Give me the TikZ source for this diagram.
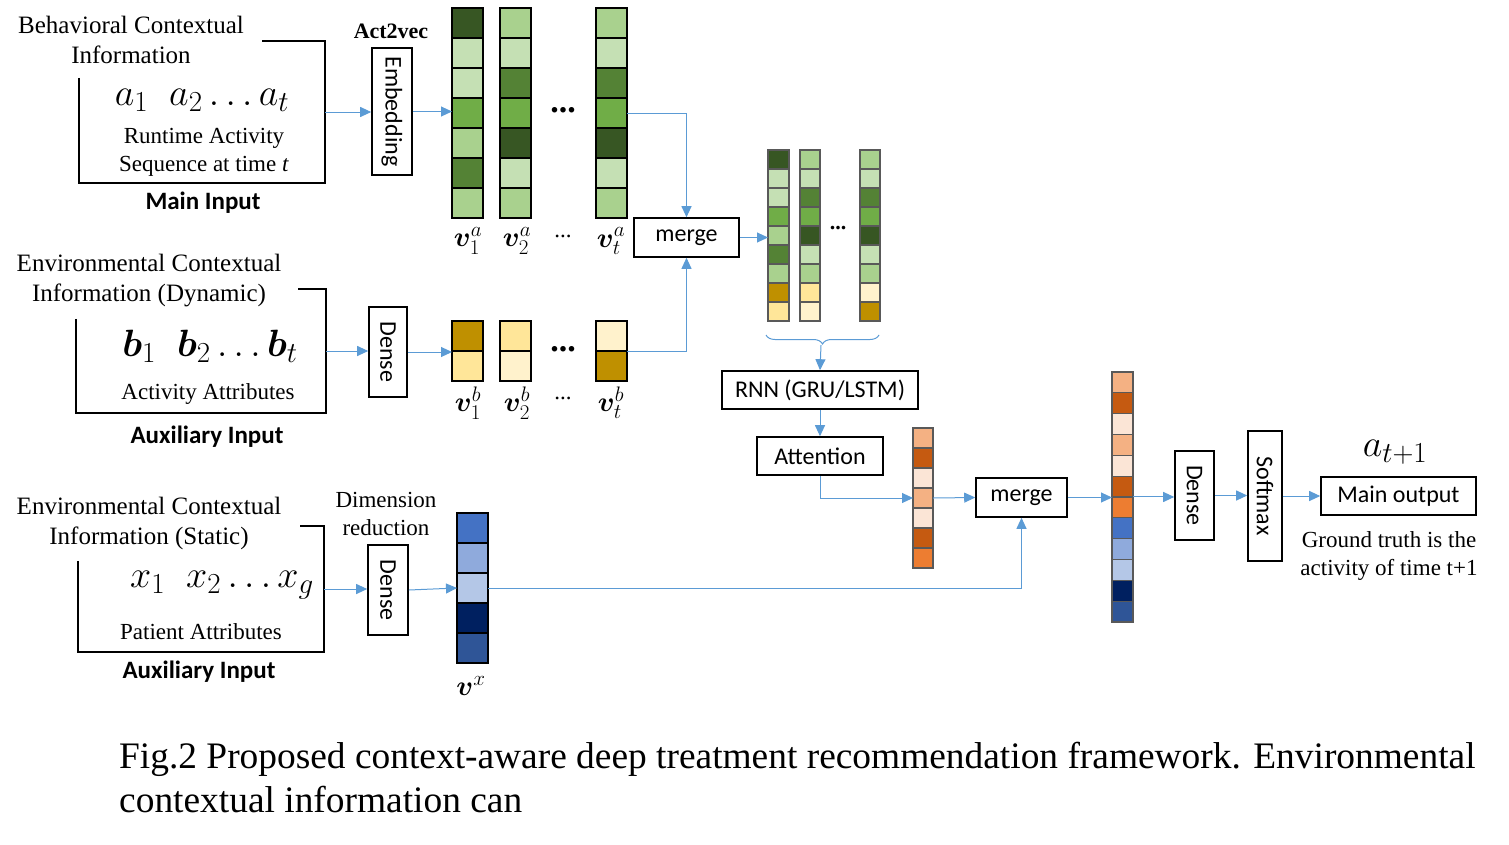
\RequirePackage{fix-cm}
\documentclass[tikz,border=0pt]{standalone}
\usepackage{fontspec}
\setmainfont{Liberation Serif}
\newfontfamily\calib{Carlito}
\usepackage{amsmath, bm}
\usepackage{graphicx}
\usepackage{tikz}
\usetikzlibrary{arrows.meta, positioning, fit, calc, decorations.pathreplacing}
\DeclareMathSizes{38}{38}{29}{22}
\DeclareMathSizes{28}{28}{21}{16}

\definecolor{gdark}{RGB}{55,86,35}
\definecolor{gmid}{RGB}{84,130,53}
\definecolor{gbright}{RGB}{112,173,71}
\definecolor{glight}{RGB}{169,209,142}
\definecolor{gpale}{RGB}{197,224,180}
\definecolor{ygold}{RGB}{191,144,0}
\definecolor{ylight}{RGB}{255,230,153}
\definecolor{ypale}{RGB}{255,242,204}
\definecolor{olight}{RGB}{244,177,131}
\definecolor{odark}{RGB}{197,90,17}
\definecolor{opale}{RGB}{251,229,214}
\definecolor{omid}{RGB}{237,125,49}
\definecolor{bmid}{RGB}{68,114,196}
\definecolor{blight}{RGB}{143,170,220}
\definecolor{bpale}{RGB}{180,199,231}
\definecolor{bnavy}{RGB}{0,32,96}
\definecolor{bdeep}{RGB}{47,85,151}
\definecolor{linkblue}{RGB}{91,155,213}

\tikzset{
  layer/.style={
    draw, line width=1.6pt, inner sep=0pt,
    font=\calib\fontsize{24}{28}\selectfont
  },
  bracket/.style={line width=1.6pt},
  cellline/.style={draw=black, line width=1.5pt},
  cellgray/.style={draw=black!65, line width=1.2pt},
  titletext/.style={font=\fontsize{25}{30}\selectfont, align=center, inner sep=0pt},
  smalltext/.style={font=\fontsize{23}{28}\selectfont, align=center, inner sep=0pt},
  inputname/.style={font=\calib\bfseries\fontsize{25}{28}\selectfont, inner sep=0pt},
  seqmath/.style={font=\fontsize{38}{42}\selectfont, inner sep=0pt},
  vlabel/.style={font=\fontsize{28}{30}\selectfont, inner sep=0pt},
  dots/.style={font=\bfseries\fontsize{34}{36}\selectfont, inner sep=0pt},
  link/.style={draw=linkblue, line width=1pt, -{Triangle[length=11pt,width=10pt]}}
}

% column of coloured cells: [style] name, left x, top y, width, cell height, count, colours
\newcommand{\cellcol}[8][cellline]{%
  \foreach \col [count=\k from 0] in {#8} {
    \filldraw[#1, fill=\col] (#3,{#4+\k*#6}) rectangle ++(#5,#6);
  }
  \node[inner sep=0pt, outer sep=0pt, minimum width=#5, minimum height={#6*#7},
        anchor=north west] (#2) at (#3,#4) {};
}

\begin{document}
\begin{tikzpicture}[x=1pt, y=-1pt]
  \useasboundingbox (0,0) rectangle (1509,844);

  % Main input (behavioral)
  \node[titletext] (tbeh) at (131,40) {Behavioral Contextual\\Information};
  \node[inner sep=0pt, minimum width=246, minimum height=142] (mainbox) at (202,112) {};
  \draw[bracket] ($(mainbox.north west)+(0,37)$) |- (mainbox.south east)
    |- ($(mainbox.north east)+(-63,0)$);
  \node[seqmath] (aseq) at (202,100) {$a_1\;\; a_2 \ldots a_t$};
  \node[smalltext] (adesc) at (204,152) {Runtime Activity\\Sequence at time \textit{t}};
  \node[inputname] (mainname) at (203,203) {Main Input};

  \node[layer, minimum width=40, minimum height=127] (emb) at (392,111.5) {\rotatebox{-90}{Embedding}};
  \node[font=\bfseries\fontsize{22}{26}\selectfont, inner sep=0pt] (act2vec) at (391,31) {Act2vec};
  \draw[link] (mainbox.east) -- (mainbox.east -| emb.west);

  % activity vectors
  \cellcol{va1}{452}{8}{31}{30}{7}{gdark,gpale,gpale,gbright,glight,gmid,glight}
  \cellcol{va2}{500}{8}{31}{30}{7}{glight,gpale,gmid,gbright,gdark,gpale,glight}
  \cellcol{vat}{596}{8}{31}{30}{7}{glight,gpale,gmid,gbright,gdark,gpale,glight}
  \node[dots] (adots) at (563,110) {...};
  \node[vlabel] (la1) at (468,241) {$\bm{v}_1^a$};
  \node[vlabel] (la2) at (517,241) {$\bm{v}_2^a$};
  \node[vlabel] (lat) at (611,241) {$\bm{v}_t^a$};
  \node[smalltext] (ladots) at (563,236) {...};
  \draw[link] (emb.east) -- (emb.east -| va1.west);

  \node[layer, minimum width=105, minimum height=39] (merge1) at (686.5,237.5) {merge};
  \draw[link] (vat.east) -| (merge1.north);

  % Auxiliary input (dynamic)
  \node[titletext] (tdyn) at (149,281) {Environmental Contextual\\Information (Dynamic)};
  \node[inner sep=0pt, minimum width=250, minimum height=124] (dynbox) at (201,351) {};
  \draw[bracket] ($(dynbox.north west)+(0,30)$) |- (dynbox.south east)
    |- ($(dynbox.north east)+(-28,0)$);
  \node[seqmath] (bseq) at (210,346) {$\bm{b}_1\;\; \bm{b}_2 \ldots \bm{b}_t$};
  \node[smalltext] (bdesc) at (208,394) {Activity Attributes};
  \node[inputname] (dynname) at (207,437) {Auxiliary Input};

  \node[layer, minimum width=38, minimum height=90] (dense1) at (388,352) {\rotatebox{-90}{Dense}};
  \draw[link] (dynbox.east) -- (dynbox.east -| dense1.west);

  \cellcol{vb1}{452}{321}{31}{30}{2}{ygold,ylight}
  \cellcol{vb2}{500}{321}{31}{30}{2}{ylight,ypale}
  \cellcol{vbt}{596}{321}{31}{30}{2}{ypale,ygold}
  \node[dots] (bdots) at (563,349) {...};
  \node[vlabel] (lb1) at (468,403) {$\bm{v}_1^b$};
  \node[vlabel] (lb2) at (517,403) {$\bm{v}_2^b$};
  \node[vlabel] (lbt) at (611,403) {$\bm{v}_t^b$};
  \node[smalltext] (lbdots) at (563,398) {...};
  \draw[link] (dense1.east) -- (dense1.east -| vb1.west);
  \draw[link] (vbt.east) -| (merge1.south);

  % concatenated sequence
  \cellcol[cellgray]{cc1}{768}{150}{21}{19}{9}{gdark,gpale,gpale,gbright,glight,gmid,glight,ygold,ylight}
  \cellcol[cellgray]{cc2}{800}{150}{20}{19}{9}{glight,gpale,gmid,gbright,gdark,gpale,glight,ylight,ypale}
  \cellcol[cellgray]{cc3}{860}{150}{20}{19}{9}{glight,gpale,gmid,gbright,gdark,gpale,glight,ypale,ygold}
  \node[font=\bfseries\fontsize{22}{24}\selectfont, inner sep=0pt] (ccdots) at (838,228) {...};
  \draw[link] (merge1.east) -- (merge1.east -| cc1.west);

  \coordinate (brl) at (766,335);
  \coordinate (brr) at (879,335);
  \coordinate (brtip) at (821,345);
  \draw[draw=linkblue, line width=1pt, decorate, decoration={brace, amplitude=9pt, mirror}] (brl) -- (brr);

  \node[layer, minimum width=196, minimum height=38] (rnn) at (820,390) {RNN (GRU/LSTM)};
  \node[layer, minimum width=126, minimum height=38] (att) at (820,456) {Attention};
  \draw[link] (brtip) -- (rnn.north);
  \draw[link] (rnn) -- (att);

  \cellcol[cellgray]{oc}{913}{428}{20}{20}{7}{olight,odark,opale,olight,opale,odark,omid}
  \draw[link] (att.south) |- (oc.west);

  \node[layer, minimum width=91, minimum height=39] (merge2) at (1021.5,497.5) {merge};
  \draw[link] (oc.east) -- (merge2.west);

  \cellcol[cellgray]{fc}{1112}{372}{21}{20.83}{12}{olight,odark,opale,olight,opale,odark,omid,bmid,blight,bpale,bnavy,bdeep}
  \draw[link] (merge2.east) -- (merge2.east -| fc.west);

  % output side
  \node[layer, minimum width=39, minimum height=89] (dense3) at (1194.5,495.5) {\rotatebox{-90}{Dense}};
  \node[layer, minimum width=34, minimum height=130] (soft) at (1265,496) {\rotatebox{-90}{Softmax}};
  \node[layer, minimum width=155, minimum height=38] (mainout) at (1398.5,496) {Main output};
  \node[seqmath] (anext) at (1395,452) {$a_{t+1}$};
  \node[smalltext] (truth) at (1389,556) {Ground truth is the\\activity of time t+1};
  \draw[link] (fc.east) -- (fc.east -| dense3.west);
  \draw[link] (dense3.east) -- (dense3.east -| soft.west);
  \draw[link] (soft.east) -- (soft.east -| mainout.west);

  % Auxiliary input (static)
  \node[titletext] (tstat) at (149,523) {Environmental Contextual\\Information (Static)};
  \node[inner sep=0pt, minimum width=246, minimum height=126] (statbox) at (201,589) {};
  \draw[bracket] ($(statbox.north west)+(0,35)$) |- (statbox.south east)
    |- ($(statbox.north east)+(-24,0)$);
  \node[seqmath] (xseq) at (222,585) {$x_1\;\; x_2 \ldots x_g$};
  \node[smalltext] (xdesc) at (201,632) {Patient Attributes};
  \node[inputname] (statname) at (199,672) {Auxiliary Input};

  \node[smalltext] (dimred) at (386,514) {Dimension\\reduction};
  \node[layer, minimum width=40, minimum height=90] (dense2) at (388,590) {\rotatebox{-90}{Dense}};
  \draw[link] (statbox.east) -- (statbox.east -| dense2.west);

  \cellcol{vx}{457}{513}{31}{30}{5}{bmid,blight,bpale,bnavy,bdeep}
  \node[vlabel] (lx) at (471,686) {$\bm{v}^x$};
  \draw[link] (dense2.east) -- (vx.west);
  \draw[link] (vx.east) -| (merge2.south);

  % caption
  \node[font=\fontsize{37.4}{45}\selectfont, inner sep=0pt, anchor=base west] (cap1) at (119,768)
    {Fig.2 Proposed context-aware deep treatment recommendation framework. Environmental};
  \node[font=\fontsize{37.4}{45}\selectfont, inner sep=0pt, anchor=base west] (cap2) at (119,812)
    {contextual information can};
\end{tikzpicture}
\end{document}
